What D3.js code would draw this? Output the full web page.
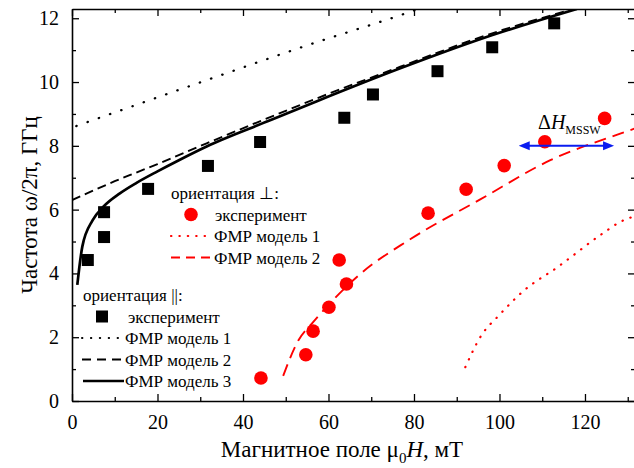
<!DOCTYPE html>
<html>
<head>
<meta charset="utf-8">
<script src="https://cdn.jsdelivr.net/npm/d3@7"></script>
<style>
  body { margin: 0; background: #fff; }
  svg { display: block; }
  text { font-family: "Liberation Serif", "Times New Roman", serif; fill: #000; }
</style>
</head>
<body>
<svg id="chart" width="634" height="468"></svg>
<script>
// measured points: [field mT, frequency GHz]
const parExp = [[3.7, 4.42], [7.5, 5.14], [7.5, 5.92], [17.8, 6.65], [31.8, 7.37], [44.0, 8.12],
  [63.7, 8.88], [70.4, 9.61], [85.5, 10.34], [98.3, 11.09], [112.8, 11.84]];
const perpExp = [[44.2, 0.72], [54.7, 1.45], [56.4, 2.19], [60.1, 2.94], [64.2, 3.67], [62.5, 4.42],
  [83.3, 5.89], [92.2, 6.64], [101.1, 7.38], [110.6, 8.13], [124.6, 8.86]];

// FMR model curves
const parModel1 = [[1, 8.62], [16, 9.33], [33, 10.13], [55, 11.15], [78, 12.15], [81, 12.29]];
const parModel2 = [[0, 6.3], [5, 6.6], [10, 6.89], [15, 7.16], [20, 7.43], [31.5, 8.08], [45.6, 8.86],
  [57.3, 9.49], [76.8, 10.48], [96.3, 11.44], [117.5, 12.3]];
const parModel3 = [[1.24, 3.64], [2.41, 4.84], [4.84, 5.67], [7.33, 6.09], [11.2, 6.51], [15.1, 6.84],
  [20, 7.2], [25, 7.55], [31.5, 7.98], [45.6, 8.76], [57.3, 9.4], [76.8, 10.43], [96.3, 11.38], [118.1, 12.29]];
const perpModel1 = [[92.0, 1.06], [95.5, 2.0], [100.2, 2.73], [105.7, 3.46], [113.5, 4.19],
  [124.0, 5.24], [128.3, 5.62], [131.8, 5.8]];
const perpModel2 = [[49.4, 0.79], [52.9, 1.89], [56.4, 2.47], [58.1, 2.73], [67.4, 3.98], [79.1, 5.07],
  [95.5, 6.32], [111.9, 7.55], [128.4, 8.39], [131.8, 8.55]];

// linewidth marker (ΔH_MSSW)
const msswRange = [104.5, 126.8];
const msswFreq = 8.0;

const xTicks = [0, 20, 40, 60, 80, 100, 120];
const yTicks = [0, 2, 4, 6, 8, 10, 12];

const svg = d3.select('#chart');
const m = { left: 72, right: 635, top: 9, bottom: 401 };

const x = d3.scaleLinear().domain([0, 131.7]).range([m.left, m.right]);
const y = d3.scaleLinear().domain([0, 12.29]).range([m.bottom, m.top]);

const plot = svg.append('g');
plot.append('clipPath').attr('id', 'clip')
  .append('rect').attr('x', m.left).attr('y', m.top).attr('width', m.right - m.left).attr('height', m.bottom - m.top);

const line = d3.line().x(d => x(d[0])).y(d => y(d[1])).curve(d3.curveMonotoneX);
const curves = plot.append('g').attr('clip-path', 'url(#clip)');

function drawCurve(data, color, width, dash, round) {
  curves.append('path')
    .datum(data)
    .attr('d', line)
    .attr('fill', 'none')
    .attr('stroke', color)
    .attr('stroke-width', width)
    .attr('stroke-dasharray', dash)
    .attr('stroke-linecap', round ? 'round' : 'butt');
}

drawCurve(parModel1, '#000', 2.3, '0.4,11.5', true);
drawCurve(parModel2, '#000', 1.9, '9,5');
drawCurve(parModel3, '#000', 2.7, null);
drawCurve(perpModel1, '#f00', 2.2, '0.4,8', true);
drawCurve(perpModel2, '#f00', 1.9, '12,7');

// axes, all ticks pointing inward
const fmt = d3.format('d');
const xMinor = d3.range(0, 140, 10).filter(v => v % 20);
const yMinor = d3.range(0, 13, 1).filter(v => v % 2);

svg.append('g').attr('transform', `translate(0,${m.bottom})`)
  .call(d3.axisBottom(x).tickValues(xTicks).tickFormat(fmt).tickSizeInner(-7).tickSizeOuter(0).tickPadding(14));
svg.append('g').attr('transform', `translate(0,${m.top})`)
  .call(d3.axisTop(x).tickValues(xTicks).tickFormat('').tickSizeInner(-7).tickSizeOuter(0));
svg.append('g').attr('transform', `translate(${m.left},0)`)
  .call(d3.axisLeft(y).tickValues(yTicks).tickFormat(fmt).tickSizeInner(-7).tickSizeOuter(0).tickPadding(13));
svg.append('g').attr('transform', `translate(${m.right},0)`)
  .call(d3.axisRight(y).tickValues(yTicks).tickFormat('').tickSizeInner(-7).tickSizeOuter(0));

svg.append('g').attr('transform', `translate(0,${m.bottom})`)
  .call(d3.axisBottom(x).tickValues(xMinor).tickFormat('').tickSizeInner(-4).tickSizeOuter(0))
  .select('.domain').remove();
svg.append('g').attr('transform', `translate(0,${m.top})`)
  .call(d3.axisTop(x).tickValues(xMinor).tickFormat('').tickSizeInner(-4).tickSizeOuter(0))
  .select('.domain').remove();
svg.append('g').attr('transform', `translate(${m.left},0)`)
  .call(d3.axisLeft(y).tickValues(yMinor).tickFormat('').tickSizeInner(-4).tickSizeOuter(0))
  .select('.domain').remove();
svg.append('g').attr('transform', `translate(${m.right},0)`)
  .call(d3.axisRight(y).tickValues(yMinor).tickFormat('').tickSizeInner(-4).tickSizeOuter(0))
  .select('.domain').remove();

svg.selectAll('.domain').attr('stroke', '#000').attr('stroke-width', 1.6);
svg.selectAll('.tick line').attr('stroke', '#000').attr('stroke-width', 1.3);
svg.selectAll('g').attr('font-family', null);
svg.selectAll('.tick text').style('font-size', '20px').attr('fill', '#000');

// experimental points
plot.append('g').selectAll('rect')
  .data(parExp)
  .enter()
  .append('rect')
  .attr('x', d => x(d[0]) - 6)
  .attr('y', d => y(d[1]) - 6)
  .attr('width', 12)
  .attr('height', 12)
  .attr('fill', '#000');

plot.append('g').selectAll('circle')
  .data(perpExp)
  .enter()
  .append('circle')
  .attr('cx', d => x(d[0]))
  .attr('cy', d => y(d[1]))
  .attr('r', 6.8)
  .attr('fill', '#f00');

// ΔH_MSSW double arrow
const blue = '#0a1cf0';
const ay = y(msswFreq);
const ax0 = x(msswRange[0]), ax1 = x(msswRange[1]);
svg.append('line')
  .attr('x1', ax0 + 6).attr('x2', ax1 - 6)
  .attr('y1', ay).attr('y2', ay)
  .attr('stroke', blue).attr('stroke-width', 2);
svg.append('path')
  .attr('d', `M${ax0},${ay} l11,-4.5 l0,9 Z M${ax1},${ay} l-11,-4.5 l0,9 Z`)
  .attr('fill', blue);

const dh = svg.append('text').attr('x', 538).attr('y', 129).style('font-size', '20px');
dh.append('tspan').text('Δ');
dh.append('tspan').style('font-style', 'italic').text('H');
dh.append('tspan').attr('dy', 5).style('font-size', '12px').text('MSSW');

// legends
function legendBlock(x0, y0, title, items) {
  const g = svg.append('g');
  g.append('text').attr('x', x0).attr('y', y0).style('font-size', '17px').text(title);
  items.forEach((it, i) => {
    const cy = y0 + 21.5 * (i + 1) - 6;
    if (it.type === 'circle') {
      g.append('circle').attr('cx', it.mx).attr('cy', cy).attr('r', 6.8).attr('fill', it.color);
    } else if (it.type === 'square') {
      g.append('rect').attr('x', it.mx - 6).attr('y', cy - 6).attr('width', 12).attr('height', 12).attr('fill', it.color);
    } else {
      g.append('line')
        .attr('x1', it.lx[0]).attr('x2', it.lx[1]).attr('y1', cy).attr('y2', cy)
        .attr('stroke', it.color).attr('stroke-width', it.w)
        .attr('stroke-dasharray', it.dash)
        .attr('stroke-linecap', it.round ? 'round' : 'butt');
    }
    g.append('text').attr('x', it.tx).attr('y', cy + 6).style('font-size', '17px').text(it.label);
  });
}

legendBlock(171, 199, 'ориентация ⊥:', [
  { type: 'circle', mx: 191, color: '#f00', tx: 215, label: 'эксперимент' },
  { type: 'line', lx: [171, 206], color: '#f00', w: 2.2, dash: '0.4,8', round: true, tx: 214, label: 'ФМР модель 1' },
  { type: 'line', lx: [171, 213], color: '#f00', w: 1.9, dash: '9,6', tx: 214, label: 'ФМР модель 2' }
]);

legendBlock(83, 301, 'ориентация ||:', [
  { type: 'square', mx: 102, color: '#000', tx: 128, label: 'эксперимент' },
  { type: 'line', lx: [82, 120], color: '#000', w: 2, dash: '0.4,8.5', round: true, tx: 125, label: 'ФМР модель 1' },
  { type: 'line', lx: [82, 124], color: '#000', w: 1.9, dash: '9,6', tx: 125, label: 'ФМР модель 2' },
  { type: 'line', lx: [83, 124], color: '#000', w: 2.7, dash: null, tx: 125, label: 'ФМР модель 3' }
]);

// axis titles
const xt = svg.append('text').attr('x', 342).attr('y', 457).attr('text-anchor', 'middle').style('font-size', '23px');
xt.append('tspan').text('Магнитное поле  μ');
xt.append('tspan').attr('dy', 6).style('font-size', '15px').text('0');
xt.append('tspan').attr('dy', -6).style('font-style', 'italic').text('H');
xt.append('tspan').text(', мТ');

svg.append('text')
  .attr('transform', 'translate(37,205) rotate(-90)')
  .attr('text-anchor', 'middle')
  .style('font-size', '23px')
  .text('Частота ω/2π, ГГц');
</script>
</body>
</html>
